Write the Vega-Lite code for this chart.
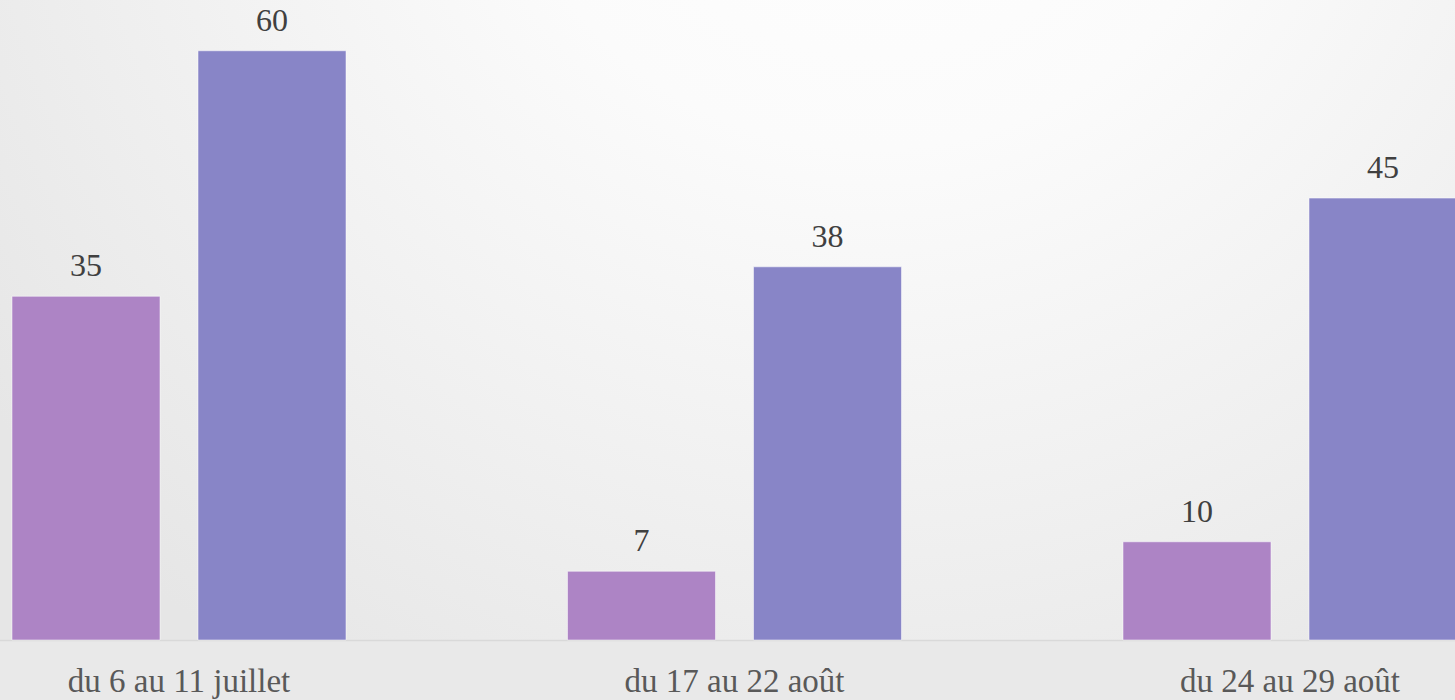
{
  "$schema": "https://vega.github.io/schema/vega-lite/v6.json",
  "width": 1455,
  "height": 640,
  "autosize": {"type": "none"},
  "padding": {"left": 0, "right": 0, "top": 0, "bottom": 60},
  "background": "#e9e9e9",
  "config": {
    "view": {
      "stroke": null,
      "fill": {
        "gradient": "radial",
        "x1": 0.6, "y1": 0.12, "r1": 0,
        "x2": 0.6, "y2": 0.12, "r2": 0.75,
        "stops": [
          {"offset": 0, "color": "#ffffff"},
          {"offset": 0.35, "color": "#fbfbfb"},
          {"offset": 1, "color": "#e6e6e6"}
        ]
      }
    },
    "font": "Liberation Serif"
  },
  "data": {
    "values": [
      {"periode": "du 6 au 11 juillet", "serie": "A", "valeur": 35},
      {"periode": "du 6 au 11 juillet", "serie": "B", "valeur": 60},
      {"periode": "du 17 au 22 août", "serie": "A", "valeur": 7},
      {"periode": "du 17 au 22 août", "serie": "B", "valeur": 38},
      {"periode": "du 24 au 29 août", "serie": "A", "valeur": 10},
      {"periode": "du 24 au 29 août", "serie": "B", "valeur": 45}
    ]
  },
  "encoding": {
    "x": {
      "field": "periode",
      "type": "nominal",
      "sort": null,
      "scale": {"range": [-98.75, 1567.75], "paddingInner": 0, "paddingOuter": 0},
      "axis": {
        "title": null,
        "labelAngle": 0,
        "labelFont": "Liberation Serif",
        "labelFontSize": 33,
        "labelColor": "#595959",
        "labelBaseline": "alphabetic",
        "labelPadding": 51,
        "labelLimit": 0,
        "ticks": false,
        "domainColor": "#d9d9d9",
        "domainWidth": 1.5,
        "grid": false
      }
    },
    "xOffset": {
      "field": "serie",
      "type": "nominal",
      "scale": {"paddingInner": 0.2043, "paddingOuter": 0.5954}
    },
    "y": {
      "field": "valeur",
      "type": "quantitative",
      "scale": {"domain": [0, 65.17], "nice": false, "zero": true},
      "axis": null
    }
  },
  "layer": [
    {
      "mark": {"type": "bar", "stroke": "#ffffff", "strokeOpacity": 0.5, "strokeWidth": 1},
      "encoding": {
        "color": {
          "field": "serie",
          "type": "nominal",
          "scale": {"domain": ["A", "B"], "range": ["#ad84c5", "#8885c7"]},
          "legend": null
        }
      }
    },
    {
      "mark": {"type": "text", "baseline": "alphabetic", "dy": -20, "fontSize": 32, "color": "#404040", "font": "Liberation Serif"},
      "encoding": {
        "text": {"field": "valeur", "type": "quantitative"}
      }
    }
  ]
}
